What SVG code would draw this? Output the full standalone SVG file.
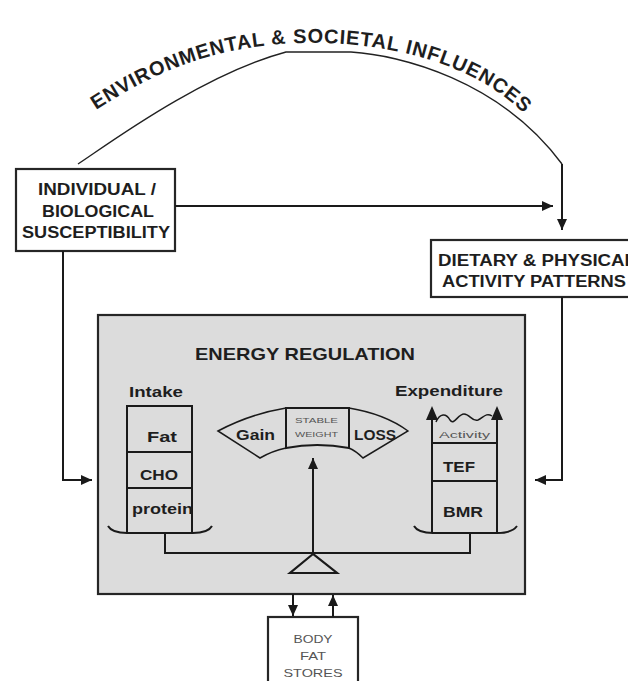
<svg xmlns="http://www.w3.org/2000/svg" width="628" height="681" viewBox="0 0 628 681">
<defs>
<marker id="ah" markerUnits="userSpaceOnUse" markerWidth="12" markerHeight="10" refX="11" refY="5" orient="auto">
<path d="M0,0 L11,5 L0,10 z" fill="#1a1a1a"/>
</marker>
<style>
.box{fill:#fff;stroke:#262626;stroke-width:2.2}
.ln{fill:none;stroke:#1a1a1a;stroke-width:2}
.t{font-family:"Liberation Sans",Arial,sans-serif;font-weight:bold;fill:#1e1e1e}
.s{font-family:"Liberation Sans",Arial,sans-serif;fill:#555}
</style>
</defs>
<rect width="628" height="681" fill="#fff"/>

<g id="env">
<path d="M78,164 C100,150 200,75 286,52 L351,52 C400,55 500,80 562,164" fill="none" stroke="#222" stroke-width="1.4"/>
<path id="tp" d="M96,110 C150,75 210,46 300,43 C390,41 480,64 532,122" fill="none"/>
<text class="t" font-size="20" letter-spacing="0.8"><textPath href="#tp">ENVIRONMENTAL &amp; SOCIETAL INFLUENCES</textPath></text>
</g>

<g id="individual">
<rect class="box" x="16" y="169" width="159" height="82"/>
<text class="t" font-size="16" text-anchor="middle" x="97" y="195" textLength="118" lengthAdjust="spacingAndGlyphs">INDIVIDUAL /</text>
<text class="t" font-size="16" text-anchor="middle" x="98" y="217" textLength="112" lengthAdjust="spacingAndGlyphs">BIOLOGICAL</text>
<text class="t" font-size="16" text-anchor="middle" x="96" y="238" textLength="148" lengthAdjust="spacingAndGlyphs">SUSCEPTIBILITY</text>
</g>

<g id="dietary">
<rect class="box" x="431" y="240" width="215" height="57"/>
<text class="t" font-size="16" x="438" y="266" textLength="198" lengthAdjust="spacingAndGlyphs">DIETARY &amp; PHYSICAL</text>
<text class="t" font-size="16" x="442" y="287" textLength="184" lengthAdjust="spacingAndGlyphs">ACTIVITY PATTERNS</text>
</g>

<g id="energy">
<rect x="98" y="315" width="427" height="279" fill="#dcdcdc" stroke="#262626" stroke-width="2.2"/>
<text class="t" font-size="17" x="195" y="360" textLength="220" lengthAdjust="spacingAndGlyphs">ENERGY REGULATION</text>
<text class="t" font-size="15" x="129" y="397" textLength="54" lengthAdjust="spacingAndGlyphs">Intake</text>
<text class="t" font-size="15" x="395" y="396" textLength="108" lengthAdjust="spacingAndGlyphs">Expenditure</text>
</g>

<g id="intake">
<path class="ln" d="M127,533 V406 H192 V533 M127,452 H192 M127,488 H192"/>
<text class="t" font-size="15" x="147" y="442" textLength="30" lengthAdjust="spacingAndGlyphs">Fat</text>
<text class="t" font-size="15" x="140" y="480" textLength="38" lengthAdjust="spacingAndGlyphs">CHO</text>
<text class="t" font-size="15" x="132" y="514" textLength="61" lengthAdjust="spacingAndGlyphs">protein</text>
<path class="ln" d="M108,526 Q112,533 127,533 L193,533 Q208,533 212,526"/>
</g>

<g id="expenditure">
<path class="ln" d="M432,533 V408 M497,533 V408 M432,443 H497 M432,481 H497"/>
<path d="M426,420 L432,406 L438,420 z M491,420 L497,406 L503,420 z" fill="#1a1a1a"/>
<path d="M436,422 C440,413 446,413 450,420 C454,426 458,414 464,414 C470,414 472,422 478,420 C483,418 486,412 492,416" fill="none" stroke="#1a1a1a" stroke-width="1.5"/>
<text class="s" font-size="9.5" x="439" y="438" textLength="51" lengthAdjust="spacingAndGlyphs">Activity</text>
<text class="t" font-size="15" x="443" y="472" textLength="32" lengthAdjust="spacingAndGlyphs">TEF</text>
<text class="t" font-size="15" x="443" y="517" textLength="40" lengthAdjust="spacingAndGlyphs">BMR</text>
<path class="ln" d="M414,526 Q418,533 433,533 L497,533 Q512,533 517,526"/>
</g>

<g id="balance">
<path d="M286,408 Q250,414 218,431 L260,458 Q272,451 286,448 Z" fill="#dcdcdc" stroke="#1a1a1a" stroke-width="1.5"/>
<path d="M349,408 Q385,414 408,431 L363,458 Q356,451 349,448 Z" fill="#dcdcdc" stroke="#1a1a1a" stroke-width="1.5"/>
<path d="M286,408 H349 V448 Q317,442 286,448 Z" fill="#dcdcdc" stroke="#1a1a1a" stroke-width="2"/>
<text class="t" font-size="14" x="236" y="440" textLength="39" lengthAdjust="spacingAndGlyphs">Gain</text>
<text class="t" font-size="14" x="354" y="440" textLength="42" lengthAdjust="spacingAndGlyphs">LOSS</text>
<text class="s" font-size="7.5" x="295" y="423" textLength="43" lengthAdjust="spacingAndGlyphs">STABLE</text>
<text class="s" font-size="7.5" x="295" y="437" textLength="43" lengthAdjust="spacingAndGlyphs">WEIGHT</text>
<path class="ln" d="M165,533 V553 H470 V533"/>
<path d="M313,554 L290,573 L337,573 Z" fill="none" stroke="#1a1a1a" stroke-width="2.2"/>
</g>

<g id="bodyfat">
<rect class="box" x="268" y="617" width="90" height="80"/>
<text class="s" font-size="10.5" text-anchor="middle" x="313" y="643" textLength="39" lengthAdjust="spacingAndGlyphs">BODY</text>
<text class="s" font-size="10.5" text-anchor="middle" x="313" y="660" textLength="26" lengthAdjust="spacingAndGlyphs">FAT</text>
<text class="s" font-size="10.5" text-anchor="middle" x="313" y="677" textLength="59" lengthAdjust="spacingAndGlyphs">STORES</text>
</g>

<g id="connectors">
<path class="ln" d="M313,553 V458" marker-end="url(#ah)"/>
<path class="ln" d="M562,164 V230" marker-end="url(#ah)"/>
<path class="ln" d="M175,206 H553" marker-end="url(#ah)"/>
<path class="ln" d="M63,251 V480 H92" marker-end="url(#ah)"/>
<path class="ln" d="M562,297 V480 H535" marker-end="url(#ah)"/>
<path class="ln" d="M293,594 V616" marker-end="url(#ah)"/>
<path class="ln" d="M333,617 V595" marker-end="url(#ah)"/>
</g>
</svg>
